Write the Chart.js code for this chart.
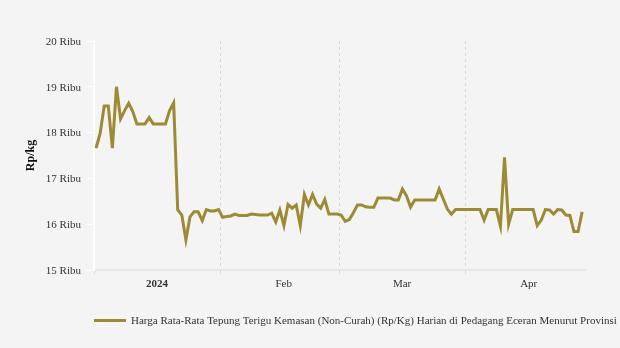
<!DOCTYPE html>
<html>
<head>
<meta charset="utf-8">
<script src="https://cdn.jsdelivr.net/npm/chart.js@4"></script>
<style>
  html, body { margin: 0; padding: 0; background: #f4f4f4; }
  #wrap { width: 620px; height: 348px; position: relative; }
</style>
</head>
<body>
<div id="wrap"><canvas id="c"></canvas></div>
<script>
// Daily values (Rp/kg), 1 Jan 2024 .. 29 Apr 2024
const values = [
  17660,17980,18580,18580,17660,19000,18300,18480,18640,18460,
  18190,18190,18190,18330,18190,18190,18190,18190,18480,18650,
  16310,16200,15660,16160,16270,16270,16080,16320,16290,16290,
  16320,16150,16170,16180,16220,16190,16190,16190,16220,16210,
  16200,16200,16200,16240,16050,16310,15970,16430,16350,16420,
  15970,16650,16420,16650,16440,16350,16540,16220,16220,16220,
  16200,16060,16100,16250,16420,16420,16380,16370,16370,16570,
  16570,16570,16570,16530,16530,16770,16620,16370,16530,16530,
  16530,16530,16530,16530,16770,16550,16330,16220,16320,16320,
  16320,16320,16320,16320,16320,16090,16320,16320,16320,15960,
  17460,16000,16320,16320,16320,16320,16320,16320,15970,16090,
  16320,16310,16220,16320,16310,16200,16190,15840,15840,16270
];
const monthStartDays = [0, 31, 60, 91];
const monthLabels = ['2024', 'Feb', 'Mar', 'Apr'];
const yTickValues = [15000, 16000, 17000, 18000, 19000, 20000];
const seriesLabel = 'Harga Rata-Rata Tepung Terigu Kemasan (Non-Curah) (Rp/Kg) Harian di Pedagang Eceran Menurut Provinsi';
const yTitle = 'Rp/kg';

const FONT = '"Liberation Serif", "Times New Roman", serif';
const LINE_COLOR = '#9c8a34';
const DAY_SHIFT = 0.5; // points sit mid-day relative to the month-start grid lines

const points = values.map((v, i) => ({ x: i + DAY_SHIFT, y: v }));

const customLegend = {
  id: 'customLegend',
  afterDraw(chart) {
    const ctx = chart.ctx;
    const ds = chart.data.datasets[0];
    const left = chart.chartArea.left;
    ctx.save();
    ctx.fillStyle = ds.borderColor;
    ctx.fillRect(left, 319, 32, 3);
    ctx.font = '11px ' + FONT;
    ctx.fillStyle = '#333333';
    ctx.textBaseline = 'middle';
    ctx.textAlign = 'left';
    ctx.fillText(ds.label, left + 37, 321);
    ctx.restore();
  }
};

new Chart(document.getElementById('c'), {
  type: 'line',
  data: {
    datasets: [{
      label: seriesLabel,
      data: points,
      borderColor: LINE_COLOR,
      backgroundColor: LINE_COLOR,
      borderWidth: 3,
      pointRadius: 0,
      tension: 0,
      fill: false
    }]
  },
  options: {
    responsive: true,
    maintainAspectRatio: false,
    animation: false,
    events: [],
    layout: { padding: { top: 41, right: 35, bottom: 0, left: 0 } },
    plugins: {
      legend: { display: false },
      tooltip: { enabled: false }
    },
    scales: {
      x: {
        type: 'linear',
        min: 0,
        max: 120.2,
        afterBuildTicks: s => { s.ticks = monthStartDays.map(v => ({ value: v })); },
        afterFit: s => { s.height = 78; },
        ticks: {
          autoSkip: false,
          maxRotation: 0,
          labelOffset: 63,
          padding: 3,
          color: '#333333',
          font: ctx => ({ family: FONT, size: 11, weight: ctx.index === 0 ? 'bold' : 'normal' }),
          callback: (v, i) => monthLabels[i]
        },
        grid: {
          color: '#d9d9d9',
          lineWidth: 1,
          tickLength: 5,
          tickBorderDash: [3, 3]
        },
        border: { color: '#e6e6e6', width: 2, dash: [3, 3] }
      },
      y: {
        min: 15000,
        max: 20000,
        afterBuildTicks: s => { s.ticks = yTickValues.map(v => ({ value: v })); },
        afterFit: s => { s.width = 94; },
        ticks: {
          padding: 6,
          labelOffset: 1,
          color: '#333333',
          font: { family: FONT, size: 11 },
          callback: v => (v / 1000) + ' Ribu'
        },
        grid: {
          drawOnChartArea: false,
          color: '#ffffff',
          tickLength: 7,
          lineWidth: 1
        },
        border: { color: '#ffffff', width: 2 },
        title: {
          display: true,
          text: yTitle,
          color: '#111111',
          font: { family: FONT, size: 12, weight: 'bold' },
          padding: { top: 24, bottom: 0 }
        }
      }
    }
  },
  plugins: [customLegend]
});
</script>
</body>
</html>
